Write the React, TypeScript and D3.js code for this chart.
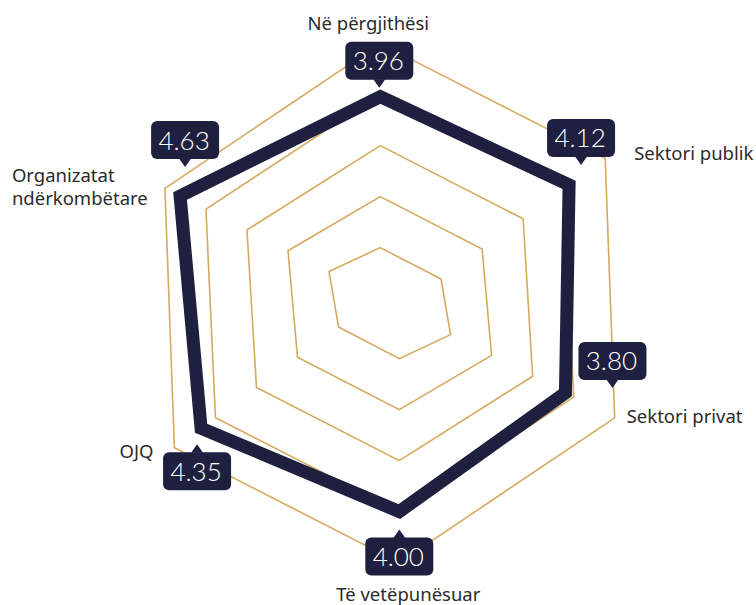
import React, { useEffect, useRef } from 'react';
import * as d3 from 'd3';

const WIDTH = 756;
const HEIGHT = 605;

// kategoritë dhe vlerat
const categories = ['Në përgjithësi', 'Sektori publik', 'Sektori privat', 'Të vetëpunësuar', 'OJQ', 'Organizatat ndërkombëtare'];
const values = [3.96, 4.12, 3.80, 4.00, 4.35, 4.63];
const valueLabels = ['3.96', '4.12', '3.80', '4.00', '4.35', '4.63'];
const levels = [1, 2, 3, 4, 5];

const NAVY = '#1f2040';
const GOLD = '#d5a95e';
const CENTER = { x: 389.8, y: 303.1 };
// shtrembërimi i rrjetit (afin) dhe zhvendosja për çdo bosht
const SKEW = [[0.929, 0], [-0.106, 1]];
const SHIFT = [[17.3, 9.5], [9.76, 4.5]];

// zhvendosje e etiketave nga kulmi
const TIP_NUDGE: [number, number, 'up' | 'down'][] = [
    [-1, -9, 'down'], [12, -20, 'down'], [47, -5, 'down'],
    [0, 18, 'up'], [-4, 16, 'up'], [5, -29, 'down'],
];
const CAT_NUDGE: [number, number, string][] = [
    [-12, -14, 'middle'], [29, 2, 'start'], [12, 5, 'start'],
    [9, 38, 'middle'], [-21, 10, 'end'], [-153, -6, 'start'],
];

export default function App() {
    const svgRef = useRef<SVGSVGElement>(null);

    useEffect(() => {
        if (!svgRef.current) return;
        const svg = d3.select(svgRef.current);
        svg.selectAll('*').remove();

        const r = d3.scaleLinear().domain([0, 5]).range([0, 255]);
        const n = categories.length;
        const project = (i: number, v: number): [number, number] => {
            const a = (i * 2 * Math.PI) / n;
            const ux = Math.sin(a), uy = -Math.cos(a);
            const rv = r(v);
            return [
                CENTER.x + SKEW[0][0] * rv * ux + SKEW[0][1] * rv * uy + SHIFT[0][0] * ux + SHIFT[0][1] * uy,
                CENTER.y + SKEW[1][0] * rv * ux + SKEW[1][1] * rv * uy + SHIFT[1][0] * ux + SHIFT[1][1] * uy,
            ];
        };
        const line = d3.line<[number, number]>().curve(d3.curveLinearClosed);

        // rrjeti
        svg.append('g').selectAll('path').data(levels).enter()
            .append('path')
            .attr('d', lv => line(categories.map((_, i) => project(i, lv))))
            .attr('fill', 'none')
            .attr('stroke', GOLD)
            .attr('stroke-width', 1.6);

        // poligoni i të dhënave
        svg.append('path')
            .attr('d', line(values.map((v, i) => project(i, v))))
            .attr('fill', 'none')
            .attr('stroke', NAVY)
            .attr('stroke-width', 13)
            .attr('stroke-linejoin', 'miter');

        // etiketat e kategorive
        const cats = svg.append('g')
            .style('font-family', '"Noto Sans", sans-serif')
            .style('font-size', '18.5px')
            .style('fill', '#2b2b2b');
        categories.forEach((c, i) => {
            const [x, y] = project(i, 5);
            const [dx, dy, anchor] = CAT_NUDGE[i];
            const words = c === 'Organizatat ndërkombëtare' ? c.split(' ') : [c];
            words.forEach((w, k) => {
                cats.append('text')
                    .attr('x', x + dx).attr('y', y + dy + k * 23)
                    .attr('text-anchor', anchor)
                    .text(w);
            });
        });

        // kutitë me vlera
        const BW = 68, BH = 38, PW = 12, PH = 8;
        values.forEach((v, i) => {
            const [x, y] = project(i, v);
            const [dx, dy, dir] = TIP_NUDGE[i];
            const tx = x + dx, ty = y + dy;
            const boxY = dir === 'down' ? ty - PH - BH : ty + PH;
            const g = svg.append('g');
            g.append('rect')
                .attr('x', tx - BW / 2).attr('y', boxY)
                .attr('width', BW).attr('height', BH)
                .attr('rx', 6)
                .attr('fill', NAVY);
            const baseY = dir === 'down' ? ty - PH - 0.5 : ty + PH + 0.5;
            g.append('path')
                .attr('d', `M${tx - PW / 2},${baseY}L${tx},${ty}L${tx + PW / 2},${baseY}Z`)
                .attr('fill', NAVY);
            g.append('text')
                .attr('x', tx - 1)
                .attr('y', boxY + BH / 2 + 9.5)
                .attr('text-anchor', 'middle')
                .text(valueLabels[i])
                .style('font-family', 'Lato, sans-serif')
                .style('font-weight', '300')
                .style('font-size', '26px')
                .style('fill', 'white');
        });
    }, []);

    return (
        <div style={{ position: 'absolute', left: 0, top: 0 }}>
            <svg ref={svgRef} width={WIDTH} height={HEIGHT} style={{ display: 'block', background: 'white' }} />
        </div>
    );
}
